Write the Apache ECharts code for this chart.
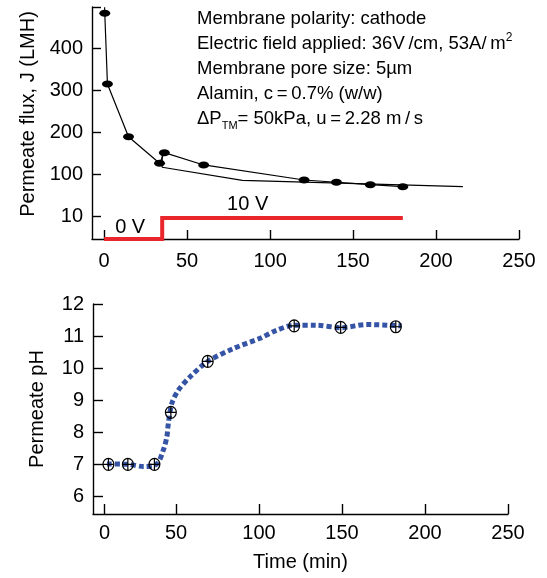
<!DOCTYPE html>
<html>
<head>
<meta charset="utf-8">
<script src="https://cdn.jsdelivr.net/npm/echarts@6/dist/echarts.min.js"></script>
<style>
  html, body { margin: 0; padding: 0; background: #fff; }
  #chart { width: 547px; height: 578px; }
</style>
</head>
<body>
<div id="chart"></div>
<script>
// top panel: permeate flux (LMH) vs time (min)
const fluxTime = [0.3, 0.4, 2, 14.7, 33.4, 36.3, 60, 120.5, 140, 160.4, 180];
const fluxJ = [497, 482.8, 314.8, 189.6, 126.4, 151.6, 122.4, 86.7, 81.3, 75.6, 70.8];
// lower trend line of the flux panel
const trendTime = [35, 35, 83.3, 216.2];
const trendJ = [151.6, 116.9, 86, 70.8];
// applied voltage (V)
const voltTime = [0, 35, 35, 180];
const voltV = [0, 0, 10, 10];
const voltLabels = [
  { t: 15.7, v: 0, text: "0 V" },
  { t: 86.5, v: 10, text: "10 V" },
];

// bottom panel: permeate pH vs time (min)
const phTime = [9.3, 21, 37, 46.9, 69.1, 121.2, 149.2, 182.4];
const phVal = [7, 7, 7, 8.62, 10.21, 11.32, 11.27, 11.29];
// dotted fitted curve
const phFitTime = [8.4, 20.9, 30.4, 38.4, 42.4, 44.5, 45.4, 47.5, 51.4, 58.5, 69.1, 84.5, 100.6, 110.6, 121.2, 134.7, 149.2, 164.8, 185.9];
const phFitVal = [7.01, 7.0, 6.93, 7.01, 7.45, 7.86, 8.28, 8.9, 9.31, 9.73, 10.21, 10.61, 10.93, 11.18, 11.34, 11.34, 11.26, 11.36, 11.32];

// tick labels
const topXTicks = [0, 50, 100, 150, 200, 250];
const topYTicks = [0, 100, 200, 300, 400, 497];
const botXTicks = [7, 50, 100, 150, 200, 250];
const botYTicks = [6, 7, 8, 9, 10, 11, 12];

const annoLines = [
  "{a|Membrane polarity: cathode}",
  "{a|Electric field applied: 36V\u2009/cm, 53A/\u2009m}{p|2}",
  "{a|Membrane pore size: 5\u00b5m}",
  "{a|Alamin, c\u2009=\u20090.7% (w/w)}",
  "{a|\u0394P}{b|TM}{a|= 50kPa, u\u2009=\u20092.28 m\u2009/\u2009s}",
];

const FONT = "'Liberation Sans', Arial, Helvetica, sans-serif";
const black = "#000";

const chart = echarts.init(document.getElementById("chart"));

const axisCommon = {
  axisLine: { show: true, onZero: false, lineStyle: { color: black, width: 1.4 } },
  axisTick: { show: true, inside: true, length: 9, lineStyle: { color: black, width: 1.4 } },
  splitLine: { show: false },
};

const option = {
  animation: false,
  backgroundColor: "#fff",
  textStyle: { fontFamily: FONT },
  grid: [
    { left: 92, top: 7, width: 427, height: 232 },
    { left: 93, top: 304, width: 415, height: 210 },
  ],
  xAxis: [
    {
      ...axisCommon,
      gridIndex: 0,
      type: "value",
      min: -7.3,
      max: 250,
      axisTick: { ...axisCommon.axisTick, customValues: topXTicks },
      axisLabel: {
        customValues: topXTicks,
        color: black,
        fontSize: 20,
        fontFamily: FONT,
        margin: 12,
      },
    },
    {
      ...axisCommon,
      gridIndex: 1,
      type: "value",
      min: 0,
      max: 250,
      axisTick: { ...axisCommon.axisTick, length: 10, customValues: botXTicks },
      axisLabel: {
        customValues: botXTicks,
        color: black,
        fontSize: 20,
        fontFamily: FONT,
        margin: 9,
        formatter: (v) => (v < 10 ? "0" : String(v)),
      },
      name: "Time (min)",
      nameLocation: "middle",
      nameGap: 38,
      nameTextStyle: { color: black, fontSize: 20, fontFamily: FONT },
    },
  ],
  yAxis: [
    {
      ...axisCommon,
      gridIndex: 0,
      type: "value",
      min: -53.5,
      max: 497.7,
      axisTick: { ...axisCommon.axisTick, customValues: topYTicks },
      axisLabel: {
        customValues: topYTicks,
        color: black,
        fontSize: 20,
        fontFamily: FONT,
        margin: 9,
        formatter: (v) => (v === 0 ? "10" : v > 450 ? "" : String(v)),
      },
      name: "Permeate flux, J (LMH)",
      nameLocation: "middle",
      nameGap: 54,
      nameTextStyle: { color: black, fontSize: 20, fontFamily: FONT, padding: [0, 0, 0, 18] },
    },
    {
      gridIndex: 0,
      type: "value",
      min: 0,
      max: 110.5,
      show: false,
    },
    {
      ...axisCommon,
      gridIndex: 1,
      type: "value",
      min: 5.45,
      max: 12,
      axisTick: { ...axisCommon.axisTick, length: 10, customValues: botYTicks },
      axisLabel: {
        customValues: botYTicks,
        color: black,
        fontSize: 20,
        fontFamily: FONT,
        margin: 9,
      },
      name: "Permeate pH",
      nameLocation: "middle",
      nameGap: 46,
      nameTextStyle: { color: black, fontSize: 20, fontFamily: FONT },
    },
  ],
  series: [
    {
      name: "flux",
      type: "line",
      xAxisIndex: 0,
      yAxisIndex: 0,
      data: fluxTime.map((t, i) => ({
        value: [t, fluxJ[i]],
        symbol: i === 0 ? "none" : undefined,
      })),
      symbol: "path://M-1,0A1,1,0,1,0,1,0A1,1,0,1,0,-1,0Z",
      symbolSize: [11, 7],
      itemStyle: { color: black },
      lineStyle: { color: black, width: 1.2 },
      z: 5,
    },
    {
      name: "trend",
      type: "line",
      xAxisIndex: 0,
      yAxisIndex: 0,
      data: trendTime.map((t, i) => [t, trendJ[i]]),
      symbol: "none",
      lineStyle: { color: black, width: 1.2 },
      z: 4,
    },
    {
      name: "voltage",
      type: "line",
      xAxisIndex: 0,
      yAxisIndex: 1,
      data: voltTime.map((t, i) => [t, voltV[i]]),
      symbol: "none",
      lineStyle: { color: "#e8262b", width: 4, cap: "butt", join: "miter" },
      z: 6,
      markPoint: {
        symbol: "circle",
        symbolSize: 0,
        data: voltLabels.map((d) => ({
          coord: [d.t, d.v],
          label: {
            show: true,
            formatter: d.text,
            position: "inside",
            offset: [0, d.v === 0 ? -12 : -14],
            color: black,
            fontSize: 20,
            fontFamily: FONT,
          },
        })),
      },
    },
    {
      name: "pH fit",
      type: "line",
      xAxisIndex: 1,
      yAxisIndex: 2,
      data: phFitTime.map((t, i) => [t, phFitVal[i]]),
      symbol: "none",
      smooth: 0.3,
      lineStyle: { color: "#3554a6", width: 5, type: [5, 3] },
      z: 3,
    },
    {
      name: "pH",
      type: "scatter",
      xAxisIndex: 1,
      yAxisIndex: 2,
      data: phTime.map((t, i) => [t, phVal[i]]),
      symbol: "path://M10,0A10,10,0,1,1,10,20A10,10,0,1,1,10,0ZM-1,10L21,10M10,0L10,20",
      symbolSize: 12,
      itemStyle: { color: "rgba(0,0,0,0)", borderColor: black, borderWidth: 1.2, opacity: 1 },
      z: 6,
    },
  ],
  graphic: annoLines.map((text, i) => ({
    type: "text",
    z: 10,
    style: {
      x: 197,
      y: 19 + i * 25,
      text: text,
      fill: black,
      fontSize: 18.5,
      fontFamily: FONT,
      verticalAlign: "middle",
      rich: {
        a: { fontSize: 18.5, fontFamily: FONT, lineHeight: 24, fill: black },
        b: { fontSize: 11, fontFamily: FONT, lineHeight: 12, verticalAlign: "bottom", fill: black },
        p: { fontSize: 12, fontFamily: FONT, lineHeight: 12, verticalAlign: "top", fill: black },
      },
    },
  })),
};

chart.setOption(option);
</script>
</body>
</html>
